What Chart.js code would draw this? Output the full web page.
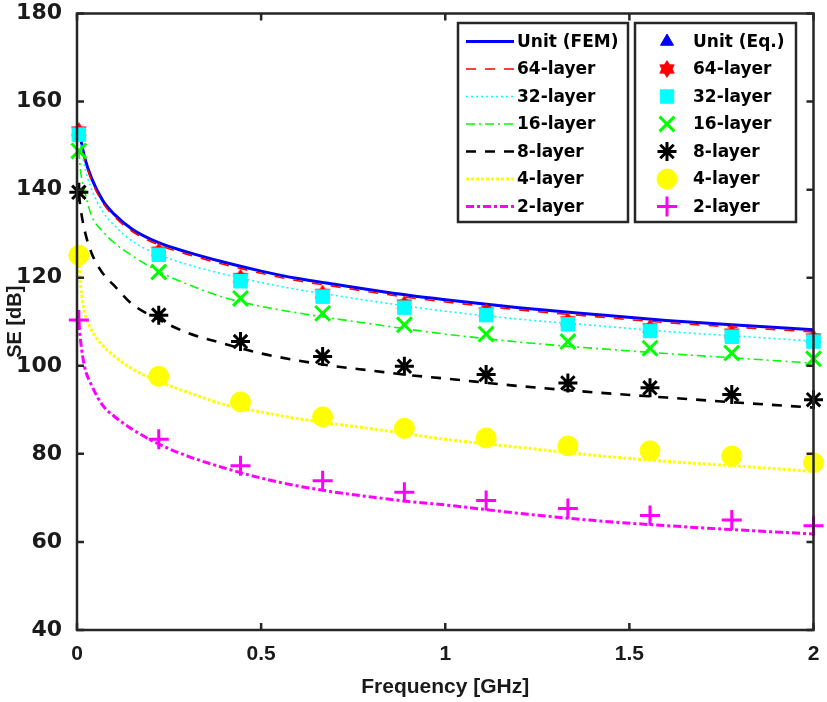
<!DOCTYPE html>
<html>
<head>
<meta charset="utf-8">
<script src="https://cdn.jsdelivr.net/npm/chart.js@4/dist/chart.umd.min.js"></script>
<style>
html,body{margin:0;padding:0;background:#fff;}
#wrap{width:827px;height:702px;position:relative;}
</style>
</head>
<body>
<div id="wrap"><canvas id="c" width="827" height="702"></canvas></div>
<script>
// ---- data ----
const fFEM = [0.005, 0.01, 0.02, 0.04, 0.07, 0.1, 0.15, 0.22, 0.3, 0.4, 0.5, 0.6, 0.7, 0.8, 0.9, 1.0, 1.2, 1.4, 1.6, 1.8, 2.0];
const unitFEM = [153.5, 151.5, 147.5, 142.5, 137.5, 134.5, 131, 128, 125.8, 123.5, 121.5, 119.8, 118.5, 117.2, 116, 115, 113.2, 111.7, 110.3, 109.2, 108.2];
const fem64 = [153, 151, 147, 142, 137, 134, 130.5, 127.5, 125.3, 123, 121, 119.3, 118, 116.7, 115.5, 114.5, 112.7, 111.2, 109.8, 108.7, 107.7];
const fem32 = [152.5, 150, 145.5, 140, 135, 132, 128.3, 125.3, 123, 120.8, 118.9, 117.3, 116, 114.7, 113.5, 112.4, 110.6, 109.2, 107.8, 106.7, 105.6];
const fem16 = [149, 144, 140, 134, 130.5, 128, 125, 121.5, 118.5, 115.5, 113.5, 112, 110.7, 109.5, 108.3, 107.2, 105.4, 104, 102.8, 101.7, 100.6];
const fem8 = [139, 135.6, 131, 125.5, 121, 118.3, 114, 110.6, 107.5, 105, 102.8, 101.2, 99.9, 98.9, 97.9, 97.1, 95.4, 94, 92.8, 91.6, 90.5];
const fem4 = [124, 118, 112.5, 108, 104.6, 102.3, 99.3, 96.5, 94, 91.2, 89.5, 88, 86.8, 85.7, 84.5, 83.3, 81.5, 79.7, 78.3, 77.2, 76];
const fem2 = [110, 105.5, 100, 95.5, 91, 88.6, 85.6, 82.3, 79.5, 76.8, 74.5, 72.7, 71.3, 70.2, 69.2, 68.4, 66.5, 64.9, 63.7, 62.7, 61.8];

const fEq = [0.005, 0.222, 0.444, 0.667, 0.889, 1.111, 1.333, 1.556, 1.778, 2.0];
const unitEq = [153, 125.5, 119.5, 116, 113.5, 111.8, 109.7, 108.2, 106.9, 105.8];
const eq64 = [153.3, 126, 120, 116.4, 114, 112.2, 110.2, 108.6, 107.4, 106.3];
const eq32 = [152.5, 125.2, 119.2, 115.7, 113.2, 111.5, 109.4, 107.9, 106.6, 105.5];
const eq16 = [148.8, 121.3, 115.3, 111.9, 109.3, 107.2, 105.5, 104, 102.9, 101.6];
const eq8 = [139.4, 111.5, 105.5, 102.1, 99.9, 98, 96.1, 95, 93.5, 92.3];
const eq4 = [125.1, 97.6, 91.8, 88.4, 85.8, 83.6, 81.8, 80.7, 79.5, 78];
const eq2 = [110.4, 83.3, 77.3, 73.9, 71.3, 69.4, 67.6, 66, 65, 63.7];

const femLabels = ['Unit (FEM)', '64-layer', '32-layer', '16-layer', '8-layer', '4-layer', '2-layer'];
const eqLabels = ['Unit (Eq.)', '64-layer', '32-layer', '16-layer', '8-layer', '4-layer', '2-layer'];
const xTicks = [0, 0.5, 1, 1.5, 2];
const yTicks = [40, 60, 80, 100, 120, 140, 160, 180];

// ---- styles ----
const AX = '#262626';
const colors = ['#0000ff', '#ff0000', '#00ffff', '#00ff00', '#000000', '#ffff00', '#ff00ff'];
const lineWidths = [3, 1.6, 1.6, 1.6, 2.6, 3, 3];
const dashes = [[], [10, 9], [2, 3], [9, 4, 2, 4], [10, 9], [3, 2], [8, 3, 3, 3]];

function hexagram(size, color) {
  const c = document.createElement('canvas');
  c.width = size; c.height = size;
  const g = c.getContext('2d');
  const r = size / 2, cx = r, cy = r;
  g.fillStyle = color;
  g.beginPath();
  for (let i = 0; i < 12; i++) {
    const ang = -Math.PI / 2 + i * Math.PI / 6;
    const rr = (i % 2 === 0) ? r : r * 0.62;
    const px = cx + rr * Math.cos(ang), py = cy + rr * Math.sin(ang);
    if (i === 0) g.moveTo(px, py); else g.lineTo(px, py);
  }
  g.closePath();
  g.fill();
  return c;
}
const hexImg = hexagram(18, '#ff0000');

const markerStyles = [
  {pointStyle: 'triangle', radius: 7.5, fill: true, lw: 1},
  {pointStyle: hexImg, radius: 9, fill: true, lw: 1},
  {pointStyle: 'rect', radius: 9.5, fill: true, lw: 1},
  {pointStyle: 'crossRot', radius: 10.5, fill: false, lw: 3},
  {pointStyle: 'star', radius: 9.5, fill: false, lw: 3},
  {pointStyle: 'circle', radius: 10, fill: true, lw: 1},
  {pointStyle: 'cross', radius: 10, fill: false, lw: 3}
];

const femSeries = [unitFEM, fem64, fem32, fem16, fem8, fem4, fem2];
const eqSeries = [unitEq, eq64, eq32, eq16, eq8, eq4, eq2];

const datasets = [];
femSeries.forEach((vals, i) => {
  datasets.push({
    label: femLabels[i],
    data: fFEM.map((f, k) => ({x: f, y: vals[k]})),
    showLine: true,
    borderColor: colors[i],
    backgroundColor: colors[i],
    borderWidth: lineWidths[i],
    borderDash: dashes[i],
    pointRadius: 0,
    cubicInterpolationMode: 'monotone',
    clip: false,
    order: 20 - i,
    _kind: 'line', _idx: i
  });
});
eqSeries.forEach((vals, i) => {
  const m = markerStyles[i];
  datasets.push({
    label: eqLabels[i],
    data: fEq.map((f, k) => ({x: f, y: vals[k]})),
    showLine: false,
    pointStyle: m.pointStyle,
    pointRadius: m.radius,
    pointBorderWidth: m.lw,
    pointBorderColor: colors[i],
    pointBackgroundColor: m.fill ? colors[i] : 'rgba(0,0,0,0)',
    borderColor: colors[i],
    backgroundColor: colors[i],
    clip: false,
    order: 10 - i,
    _kind: 'marker', _idx: i, _fill: m.fill
  });
});

const boxPlugin = {
  id: 'boxPlugin',
  afterDatasetsDraw(chart) {
    const {ctx, chartArea: a, scales} = chart;
    const xs = scales.x, ys = scales.y;
    ctx.save();
    ctx.strokeStyle = AX;
    ctx.lineWidth = 2.5;
    ctx.setLineDash([]);
    ctx.strokeRect(a.left, a.top, a.right - a.left, a.bottom - a.top);
    const tl = 7;
    ctx.beginPath();
    xTicks.forEach(v => {
      const px = xs.getPixelForValue(v);
      ctx.moveTo(px, a.bottom); ctx.lineTo(px, a.bottom - tl);
      ctx.moveTo(px, a.top); ctx.lineTo(px, a.top + tl);
    });
    yTicks.forEach(v => {
      const py = ys.getPixelForValue(v);
      ctx.moveTo(a.left, py); ctx.lineTo(a.left + tl, py);
      ctx.moveTo(a.right, py); ctx.lineTo(a.right - tl, py);
    });
    ctx.stroke();
    ctx.restore();
  },
  afterDraw(chart) {
    const ctx = chart.ctx;
    const rows = [41.5, 69, 96.5, 124, 151.5, 179, 206.5];
    ctx.save();
    drawBox(ctx, 458, 23, 170, 199);
    drawBox(ctx, 635, 23, 161, 199);
    ctx.font = 'bold 17px "DejaVu Sans"';
    ctx.textBaseline = 'middle';
    const ds = chart.data.datasets;
    ds.forEach(d => {
      const y = rows[d._idx];
      if (d._kind === 'line') {
        ctx.save();
        ctx.strokeStyle = d.borderColor;
        ctx.lineWidth = d.borderWidth;
        ctx.setLineDash(d.borderDash);
        ctx.beginPath();
        ctx.moveTo(466, y); ctx.lineTo(514, y);
        ctx.stroke();
        ctx.restore();
        ctx.fillStyle = '#000';
        ctx.textAlign = 'left';
        ctx.fillText(d.label, 517, y + 1);
      } else {
        ctx.save();
        ctx.fillStyle = d._fill ? d.pointBackgroundColor : 'rgba(0,0,0,0)';
        ctx.strokeStyle = d.pointBorderColor;
        ctx.lineWidth = d.pointBorderWidth;
        ctx.setLineDash([]);
        Chart.helpers.drawPoint(ctx, {
          pointStyle: d.pointStyle,
          radius: d.pointRadius,
          rotation: 0,
          borderWidth: d.pointBorderWidth
        }, 667, y);
        ctx.restore();
        ctx.fillStyle = '#000';
        ctx.textAlign = 'left';
        ctx.fillText(d.label, 693, y + 1);
      }
    });
    ctx.restore();

    function drawBox(ctx, x, y, w, h) {
      ctx.save();
      ctx.fillStyle = '#fff';
      ctx.fillRect(x, y, w, h);
      ctx.strokeStyle = AX;
      ctx.lineWidth = 2.5;
      ctx.strokeRect(x, y, w, h);
      ctx.restore();
    }
  }
};

const chart = new Chart(document.getElementById('c'), {
  type: 'scatter',
  data: {datasets},
  options: {
    responsive: false,
    animation: false,
    events: [],
    layout: {padding: {top: 8, right: 11, left: 0, bottom: 0}},
    plugins: {legend: {display: false}, tooltip: {enabled: false}},
    scales: {
      x: {
        type: 'linear', min: 0, max: 2,
        afterFit(s) { s.height = 72; s.paddingLeft = 0; s.paddingRight = 0; },
        afterBuildTicks(s) { s.ticks = xTicks.map(v => ({value: v})); },
        grid: {display: false, drawTicks: false},
        border: {display: false},
        ticks: {
          padding: 12, color: '#1a1a1a', maxRotation: 0,
          font: {family: '"Liberation Sans Narrow", "Arial Narrow", "Liberation Sans"', weight: 'bold', size: 21},
          callback: v => String(v)
        },
        title: {
          display: true, text: 'Frequency [GHz]', color: '#1a1a1a',
          font: {family: '"Liberation Sans Narrow", "Arial Narrow", "Liberation Sans"', weight: 'bold', size: 21},
          padding: {top: 0, bottom: 2}
        }
      },
      y: {
        type: 'linear', min: 40, max: 180,
        afterFit(s) { s.width = 77; s.paddingTop = 0; s.paddingBottom = 0; },
        afterBuildTicks(s) { s.ticks = yTicks.map(v => ({value: v})); },
        grid: {display: false, drawTicks: false},
        border: {display: false},
        ticks: {
          padding: 15, color: '#1a1a1a',
          font: {family: '"DejaVu Sans"', weight: 'bold', size: 22},
          callback: v => String(v)
        },
        title: {
          display: true, text: 'SE [dB]', color: '#1a1a1a',
          font: {family: '"Liberation Sans"', weight: 'bold', size: 20},
          padding: {top: 3, bottom: 0}
        }
      }
    }
  },
  plugins: [boxPlugin]
});
</script>
</body>
</html>
